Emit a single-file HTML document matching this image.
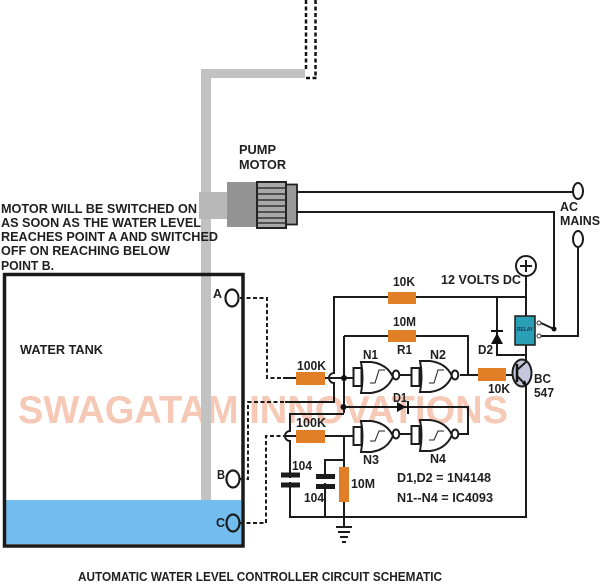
<!DOCTYPE html>
<html>
<head>
<meta charset="utf-8">
<style>
html,body{margin:0;padding:0;background:#fff;width:600px;height:584px;overflow:hidden}
svg{display:block}
text{font-family:"Liberation Sans",Arial,sans-serif;font-weight:bold;font-size:13px;fill:#1f1f1f}
.w{fill:none;stroke:#1c1c1c;stroke-width:2}
.d{fill:none;stroke:#1c1c1c;stroke-width:2;stroke-dasharray:4 2.5}
.r{fill:#e07f26}
.g{fill:#fff;stroke:#1c1c1c;stroke-width:2}
.s{fill:none;stroke:#1c1c1c;stroke-width:1}
</style>
</head>
<body>
<svg width="600" height="584" viewBox="0 0 600 584" xmlns="http://www.w3.org/2000/svg">
<rect width="600" height="584" fill="#fff"/>

<!-- watermark -->
<text x="18" y="423" textLength="490" lengthAdjust="spacingAndGlyphs" style="font-size:39px;fill:#f6c8b6">SWAGATAM INNOVATIONS</text>

<!-- water -->
<rect x="6" y="500" width="235" height="44" fill="#72bdee"/>
<!-- pipe -->
<path d="M201 69H305V78H211V500H201Z" fill="#c2c2c2"/>
<!-- dashed pipe -->
<path d="M306 0V70M315.500 0V76M306 78H318" fill="none" stroke="#111" stroke-width="2.500" stroke-dasharray="4 2.500"/>

<!-- tank -->
<rect x="4.500" y="274.500" width="238.500" height="271.500" fill="none" stroke="#1a1a1a" stroke-width="3.500"/>

<!-- motor -->
<rect x="199" y="192" width="30" height="27" fill="#b8b8b8"/>
<rect x="227" y="182" width="31" height="45" fill="#939393"/>
<rect x="286" y="184.500" width="11" height="40" fill="#999" stroke="#222" stroke-width="1.800"/>
<rect x="257" y="182" width="29" height="46" fill="#a8a8a8" stroke="#222" stroke-width="2"/>
<path d="M257 188H286M257 194H286M257 200H286M257 206H286M257 212H286M257 218H286M257 223H286" stroke="#333" stroke-width="1.500"/>

<!-- mains wires -->
<path class="w" d="M297 192H573M297 212H554V329M578 247V336H541"/>
<ellipse class="g" cx="578" cy="191" rx="5" ry="8" />
<ellipse class="g" cx="578" cy="239" rx="5" ry="8"/>

<!-- dashed signal wires -->
<path class="d" d="M240 298H267V378H283"/>
<path class="d" d="M240 479H248V402H285"/>
<path class="d" d="M240 523H266V436H284"/>

<!-- circuit wires -->
<path class="w" d="M285 402H334V383A5 5 0 0 1 334 373V297H526M526 276V316M526 345V362M526 385V517H290V441A5 5 0 0 1 290 431V414H344M344 336V413M344 336H468V375M344 407H468V434H458"/>
<path class="w" d="M283 378H354"/>
<path class="w" d="M284 436H353"/>
<path class="w" d="M344 436V517M325 517V460H344M497 297V355H526"/>
<path class="w" d="M344 517V527M460 375H516M400 375H411M400 434H411"/>
<circle cx="344" cy="378" r="3" fill="#111"/>
<circle cx="343.500" cy="407" r="3" fill="#111"/>

<!-- resistors -->
<rect class="r" x="388" y="292" width="28" height="12"/>
<rect class="r" x="388" y="330" width="28" height="12"/>
<rect class="r" x="296" y="372" width="29" height="13"/>
<rect class="r" x="296" y="430" width="29" height="13"/>
<rect class="r" x="478" y="368" width="28" height="13"/>
<rect class="r" x="339" y="467" width="10" height="35"/>

<!-- gates -->
<g id="gates">
<rect class="g" x="353.500" y="368" width="8" height="18"/>
<path class="g" d="M361 362H371Q387 364 393 377Q387 391 371 393H361Q364 377 361 362Z"/>
<ellipse class="g" cx="396" cy="375" rx="3.300" ry="4.500"/>
<path class="s" d="M370 383H375L379 370H385"/>
<rect class="g" x="411.500" y="368" width="8" height="18"/>
<path class="g" d="M420 361H430Q446 363 452 376Q446 390 430 392H420Q423 376 420 361Z"/>
<ellipse class="g" cx="455" cy="375" rx="3.300" ry="4.500"/>
<path class="s" d="M429 383H434L438 370H444"/>
<rect class="g" x="353.500" y="427" width="8" height="18"/>
<path class="g" d="M361 421H371Q387 423 393 436Q387 450 371 452H361Q364 436 361 421Z"/>
<ellipse class="g" cx="396" cy="434" rx="3.300" ry="4.500"/>
<path class="s" d="M370 441H375L379 431H385"/>
<rect class="g" x="411.500" y="426" width="8" height="18"/>
<path class="g" d="M420 420H430Q446 422 452 435Q446 449 430 451H420Q423 435 420 420Z"/>
<ellipse class="g" cx="455" cy="434" rx="3.300" ry="4.500"/>
<path class="s" d="M429 440H434L438 431H444"/>
</g>

<!-- diodes -->
<path d="M397 402L406 407L397 412Z" fill="#111"/>
<path d="M408 401V414" stroke="#111" stroke-width="2"/>
<path d="M491 344H503L497 333Z" fill="#111"/>
<path d="M491 331H503" stroke="#111" stroke-width="2"/>

<!-- capacitors -->
<rect x="285" y="478" width="9" height="4" fill="#fff"/>
<rect x="320" y="479" width="9" height="4" fill="#fff"/>
<path d="M281 475H300M281 485H300M316 476.500H335M316 486.500H335" stroke="#1c1c1c" stroke-width="5"/>

<!-- ground -->
<path d="M336 527H352M338 532H350M340 537H348M342 542H346" stroke="#1c1c1c" stroke-width="2"/>

<!-- supply -->
<circle class="g" cx="526" cy="266" r="10"/>
<path d="M520 266H532M526 260V272" stroke="#1c1c1c" stroke-width="2"/>

<!-- relay -->
<rect x="515" y="316" width="20" height="29" fill="#2b9fb5" stroke="#1c1c1c" stroke-width="1.500"/>
<text x="517" y="331" textLength="16" lengthAdjust="spacingAndGlyphs" style="font-size:5px;fill:#1a3a55">RELAY</text>
<circle cx="539" cy="323" r="2" fill="#fff" stroke="#333" stroke-width="1"/>
<circle cx="539" cy="336" r="2" fill="#fff" stroke="#333" stroke-width="1"/>
<path class="w" d="M541 323L554 329"/>
<circle cx="554" cy="329" r="2.500" fill="#111"/>

<!-- transistor -->
<ellipse cx="522" cy="373" rx="9.500" ry="13.500" fill="#c4c6dc" stroke="#1c1c1c" stroke-width="2"/>
<path d="M517 364V382" stroke="#111" stroke-width="2.500"/>
<path class="w" d="M517 370L526 362M517 376L526 385"/>
<path d="M522 384L527 386L525 380Z" fill="#111"/>

<!-- circles A B C -->
<ellipse cx="232" cy="298" rx="6.500" ry="8.500" fill="#fff" stroke="#1c1c1c" stroke-width="2.200"/>
<ellipse cx="233" cy="479" rx="6.500" ry="8.500" fill="#fff" stroke="#1c1c1c" stroke-width="2.200"/>
<ellipse cx="233" cy="523" rx="6.500" ry="8.500" fill="#72bdee" stroke="#1c1c1c" stroke-width="2.200"/>
<text x="213" y="298" textLength="9" lengthAdjust="spacingAndGlyphs">A</text>
<text x="217" y="479" textLength="8" lengthAdjust="spacingAndGlyphs">B</text>
<text x="216" y="527" textLength="9" lengthAdjust="spacingAndGlyphs">C</text>

<!-- text labels -->
<text x="1" y="213" textLength="196" lengthAdjust="spacingAndGlyphs">MOTOR WILL BE SWITCHED ON</text>
<text x="1" y="227" textLength="200" lengthAdjust="spacingAndGlyphs">AS SOON AS THE WATER LEVEL</text>
<text x="1" y="241" textLength="217" lengthAdjust="spacingAndGlyphs">REACHES POINT A AND SWITCHED</text>
<text x="1" y="255" textLength="169" lengthAdjust="spacingAndGlyphs">OFF ON REACHING BELOW</text>
<text x="1" y="270" textLength="53" lengthAdjust="spacingAndGlyphs">POINT B.</text>
<text x="239" y="154" textLength="37" lengthAdjust="spacingAndGlyphs">PUMP</text>
<text x="239" y="169" textLength="47" lengthAdjust="spacingAndGlyphs">MOTOR</text>
<text x="560" y="211" textLength="18" lengthAdjust="spacingAndGlyphs">AC</text>
<text x="560" y="225" textLength="40" lengthAdjust="spacingAndGlyphs">MAINS</text>
<text x="441" y="284" textLength="80" lengthAdjust="spacingAndGlyphs">12 VOLTS DC</text>
<text x="393" y="286" textLength="22" lengthAdjust="spacingAndGlyphs">10K</text>
<text x="393" y="326" textLength="23" lengthAdjust="spacingAndGlyphs">10M</text>
<text x="397" y="354" textLength="15" lengthAdjust="spacingAndGlyphs">R1</text>
<text x="363" y="359" textLength="15" lengthAdjust="spacingAndGlyphs">N1</text>
<text x="430" y="359" textLength="16" lengthAdjust="spacingAndGlyphs">N2</text>
<text x="297" y="370" textLength="29" lengthAdjust="spacingAndGlyphs">100K</text>
<text x="478" y="354" textLength="15" lengthAdjust="spacingAndGlyphs">D2</text>
<text x="488" y="393" textLength="22" lengthAdjust="spacingAndGlyphs">10K</text>
<text x="534" y="383" textLength="17" lengthAdjust="spacingAndGlyphs">BC</text>
<text x="534" y="397" textLength="20" lengthAdjust="spacingAndGlyphs">547</text>
<text x="393" y="402" textLength="14" lengthAdjust="spacingAndGlyphs">D1</text>
<text x="296" y="427" textLength="30" lengthAdjust="spacingAndGlyphs">100K</text>
<text x="363" y="464" textLength="16" lengthAdjust="spacingAndGlyphs">N3</text>
<text x="430" y="463" textLength="16" lengthAdjust="spacingAndGlyphs">N4</text>
<text x="292" y="470" textLength="20" lengthAdjust="spacingAndGlyphs">104</text>
<text x="304" y="502" textLength="20" lengthAdjust="spacingAndGlyphs">104</text>
<text x="351" y="488" textLength="24" lengthAdjust="spacingAndGlyphs">10M</text>
<text x="397" y="482" textLength="94" lengthAdjust="spacingAndGlyphs">D1,D2 = 1N4148</text>
<text x="397" y="502" textLength="96" lengthAdjust="spacingAndGlyphs">N1--N4 = IC4093</text>
<text x="20" y="354" textLength="83" lengthAdjust="spacingAndGlyphs">WATER TANK</text>
<text x="78" y="581" textLength="364" lengthAdjust="spacingAndGlyphs">AUTOMATIC WATER LEVEL CONTROLLER CIRCUIT SCHEMATIC</text>
</svg>
</body>
</html>
